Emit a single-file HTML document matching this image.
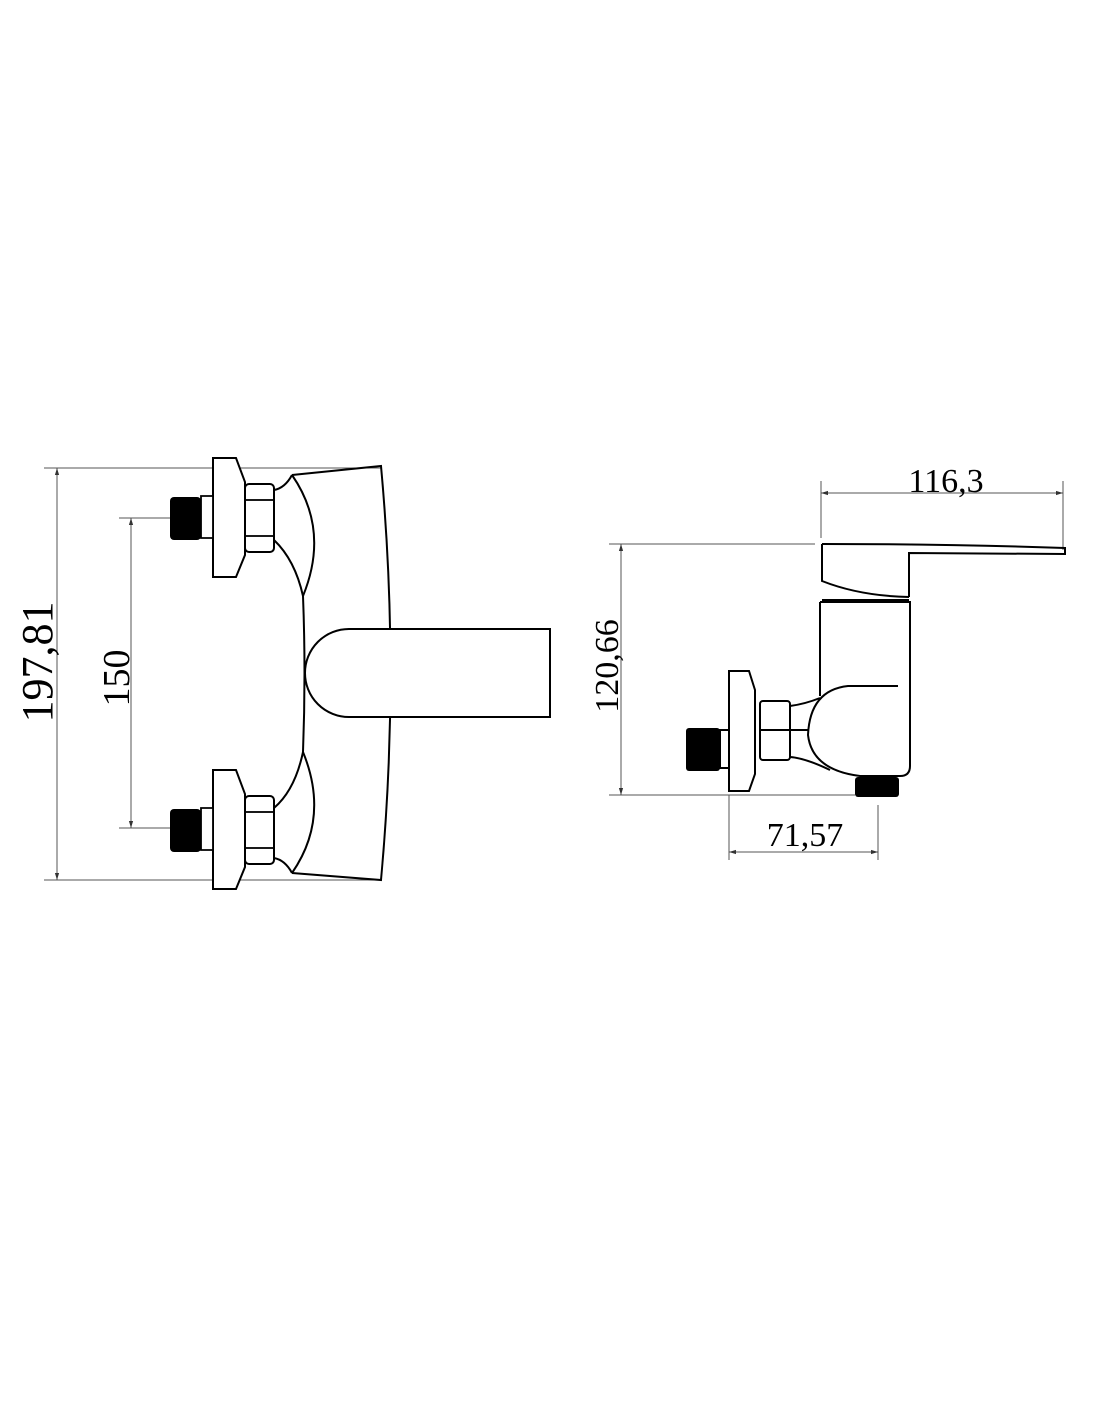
<!DOCTYPE html>
<html><head><style>html,body{margin:0;padding:0;background:#fff}svg{display:block}</style></head>
<body>
<svg width="1100" height="1422" viewBox="0 0 1100 1422" xmlns="http://www.w3.org/2000/svg">
<defs>
<marker id="a" viewBox="0 0 10 10" refX="10" refY="5" markerWidth="7" markerHeight="7" orient="auto-start-reverse"><path d="M0,2 L10,5 L0,8z" fill="#333"/></marker>
<g id="valve">
  <path d="M213,0 H236 L245,24 V97 L236,119 H213 Z" fill="#fff" stroke="#000" stroke-width="2"/>
  <rect x="245" y="26" width="29" height="68" rx="4" fill="#fff" stroke="#000" stroke-width="2"/>
  <rect x="245" y="42" width="29" height="36" fill="none" stroke="#000" stroke-width="1.8"/>
  <path d="M201,38 V80 H213 V38 Z" fill="#fff" stroke="#000" stroke-width="1.8"/>
  <rect x="170" y="39" width="31" height="43" rx="4" fill="#000"/>
</g>
</defs>
<g fill="none" stroke="#555" stroke-width="1">
  <line x1="44" y1="468" x2="381" y2="468"/>
  <line x1="44" y1="880" x2="381" y2="880"/>
  <line x1="57" y1="468" x2="57" y2="880" marker-start="url(#a)" marker-end="url(#a)"/>
  <line x1="119" y1="518" x2="170" y2="518"/>
  <line x1="119" y1="828" x2="170" y2="828"/>
  <line x1="131" y1="518" x2="131" y2="828" marker-start="url(#a)" marker-end="url(#a)"/>
  <line x1="821" y1="481" x2="821" y2="538"/>
  <line x1="1063" y1="481" x2="1063" y2="550"/>
  <line x1="821" y1="493" x2="1063" y2="493" marker-start="url(#a)" marker-end="url(#a)"/>
  <line x1="609" y1="544" x2="815" y2="544"/>
  <line x1="609" y1="795" x2="855" y2="795"/>
  <line x1="621" y1="544" x2="621" y2="795" marker-start="url(#a)" marker-end="url(#a)"/>
  <line x1="729" y1="795" x2="729" y2="860"/>
  <line x1="878" y1="805" x2="878" y2="860"/>
  <line x1="729" y1="852" x2="878" y2="852" marker-start="url(#a)" marker-end="url(#a)"/>
</g>
<!-- left view -->
<g fill="none" stroke="#000" stroke-width="2">
  <path d="M292,475 L381,466 Q400,673 381,880 L292,873"/>
  <path d="M292,475 Q330,530 303,596"/>
  <path d="M274,490 Q285,488 292,475"/>
  <path d="M274,540 Q295,560 303,596 Q306,673 303,752"/>
  <path d="M292,873 Q330,818 303,752"/>
  <path d="M274,858 Q285,860 292,873"/>
  <path d="M274,808 Q295,790 303,752"/>
  <path d="M550,629 H349 A44,44 0 0 0 349,717 H550 Z" fill="#fff"/>
</g>
<use href="#valve" transform="translate(0,458)"/>
<use href="#valve" transform="translate(0,770)"/>
<!-- right view -->
<g fill="none" stroke="#000" stroke-width="2">
  <path d="M822,544 Q950,544 1065,548 V554 L909,553 V597" />
  <path d="M822,544 V581 Q860,596 909,597"/>
  <line x1="822" y1="600" x2="909" y2="600"/>
  <path d="M820,602 H910 V766 Q910,776 900,776 H860 Q812,770 808,735 Q810,690 848,686 H898"/>
  <line x1="820" y1="602" x2="820" y2="696"/>
  <path d="M790,706 Q805,704 820,698"/>
  <path d="M790,757 Q805,758 830,770"/>
  <line x1="790" y1="730" x2="808" y2="730"/>
  <rect x="760" y="701" width="30" height="59" rx="3" fill="#fff"/>
  <line x1="760" y1="730" x2="790" y2="730"/>
  <path d="M729,671 H749 L755,690 V774 L749,791 H729 Z" fill="#fff"/>
  <path d="M720,730 V768 H729 V730 Z" fill="#fff"/>
</g>
<rect x="686" y="728" width="34" height="43" rx="3" fill="#000"/>
<rect x="855" y="777" width="44" height="20" rx="3" fill="#000"/>
<g font-family="Liberation Serif, serif" font-size="34" fill="#000">
  <text x="946" y="492" text-anchor="middle">116,3</text>
  <text x="805" y="846" text-anchor="middle">71,57</text>
  <text transform="translate(52,662) rotate(-90)" text-anchor="middle" font-size="44">197,81</text>
  <text transform="translate(129,678) rotate(-90)" text-anchor="middle" font-size="38">150</text>
  <text transform="translate(618,666) rotate(-90)" text-anchor="middle">120,66</text>
</g>
</svg>
</body></html>
